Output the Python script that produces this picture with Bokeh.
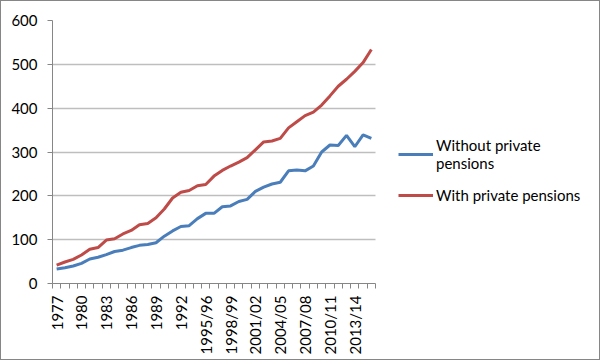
from math import pi
from bokeh.plotting import figure
from bokeh.models import FixedTicker, Legend, LegendItem, Range1d, ColumnDataSource
from bokeh.embed import file_html
from bokeh.resources import INLINE

years = ["1977", "1978", "1979", "1980", "1981", "1982", "1983", "1984", "1985",
         "1986", "1987", "1988", "1989", "1990", "1991", "1992", "1993",
         "1994/95", "1995/96", "1996/97", "1997/98", "1998/99", "1999/00",
         "2000/01", "2001/02", "2002/03", "2003/04", "2004/05", "2005/06",
         "2006/07", "2007/08", "2008/09", "2009/10", "2010/11", "2011/12",
         "2012/13", "2013/14", "2014/15", "2015/16"]

without_private = [33, 36, 40, 46, 56, 60, 66, 73, 76, 82, 87, 89, 93, 108, 120,
                   130, 132, 148, 160, 160, 175, 177, 187, 192, 210, 220, 227,
                   231, 257, 259, 257, 268, 300, 316, 315, 338, 312, 339, 331]

with_private = [42, 49, 55, 65, 78, 82, 99, 102, 113, 121, 134, 137, 150, 170,
                195, 208, 212, 223, 226, 245, 258, 268, 277, 287, 305, 323, 325,
                331, 355, 369, 383, 391, 407, 428, 450, 466, 484, 504, 534]

y_ticks = [0, 100, 200, 300, 400, 500, 600]
label_step = 3

# layout (pixels)
W, H = 600, 360
LEFT, RIGHT, TOP, BOTTOM = 51, 1, 19, 78
PLOT_W = 323            # width of the data area; legend sits to its right
frame_w = W - LEFT - RIGHT
n = len(years)
x_end = n * frame_w / PLOT_W

xs = [i + 0.5 for i in range(n)]
src = ColumnDataSource(dict(x=xs, wo=without_private, wi=with_private, year=years))

p = figure(width=W, height=H, output_backend="svg", toolbar_location=None,
           x_range=Range1d(0, x_end), y_range=Range1d(0, 600),
           min_border_left=LEFT, min_border_right=RIGHT, min_border_top=TOP,
           min_border_bottom=BOTTOM)
p.styles = {"border": "1px solid #868686"}
p.outline_line_color = None
p.background_fill_color = "white"
p.border_fill_color = "white"

FONT = "Lato"
FS = "15px"
AXIS_COLOR = "#868686"

# x axis
major = [xs[i] for i in range(0, n, label_step)]
p.xaxis.ticker = FixedTicker(ticks=major, minor_ticks=list(range(n + 1)))
p.xaxis.bounds = (0, n)
p.xaxis.major_label_overrides = {xs[i]: years[i] for i in range(0, n, label_step)}
p.xaxis.major_label_orientation = pi / 2
p.xaxis.major_tick_out = 0
p.xaxis.major_tick_in = 0
p.xaxis.minor_tick_out = 5
p.xaxis.minor_tick_in = 0
p.xaxis.minor_tick_line_color = AXIS_COLOR
p.xaxis.axis_line_color = AXIS_COLOR
p.xaxis.major_label_standoff = 7
p.xaxis.major_label_text_font = FONT
p.xaxis.major_label_text_font_size = FS
p.xaxis.major_label_text_color = "black"

# y axis
p.yaxis.ticker = FixedTicker(ticks=y_ticks)
p.yaxis.major_tick_out = 5
p.yaxis.major_tick_in = 0
p.yaxis.minor_tick_line_color = None
p.yaxis.major_tick_line_color = AXIS_COLOR
p.yaxis.axis_line_color = AXIS_COLOR
p.yaxis.major_label_standoff = 10
p.yaxis.major_label_text_font = FONT
p.yaxis.major_label_text_font_size = FS
p.yaxis.major_label_text_color = "black"

p.xgrid.grid_line_color = None
p.ygrid.ticker = FixedTicker(ticks=y_ticks[1:])
p.ygrid.cross_bounds = (0, n)
p.ygrid.grid_line_color = "#BEBEBE"
p.ygrid.grid_line_width = 1.5

r1 = p.line("x", "wo", source=src, line_color="#4A7EBB", line_width=3)
r2 = p.line("x", "wi", source=src, line_color="#BE4B48", line_width=3)

legend = Legend(items=[LegendItem(label="Without private\npensions", renderers=[r1]),
                       LegendItem(label="With private pensions", renderers=[r2])],
                location=(346, 78), orientation="vertical",
                border_line_color=None, background_fill_alpha=0,
                glyph_width=35, label_standoff=3, padding=0, margin=0,
                spacing=13, label_text_font=FONT, label_text_font_size=FS,
                label_text_color="black")
p.add_layout(legend, "center")

open("out.html", "w").write(file_html(p, INLINE))
